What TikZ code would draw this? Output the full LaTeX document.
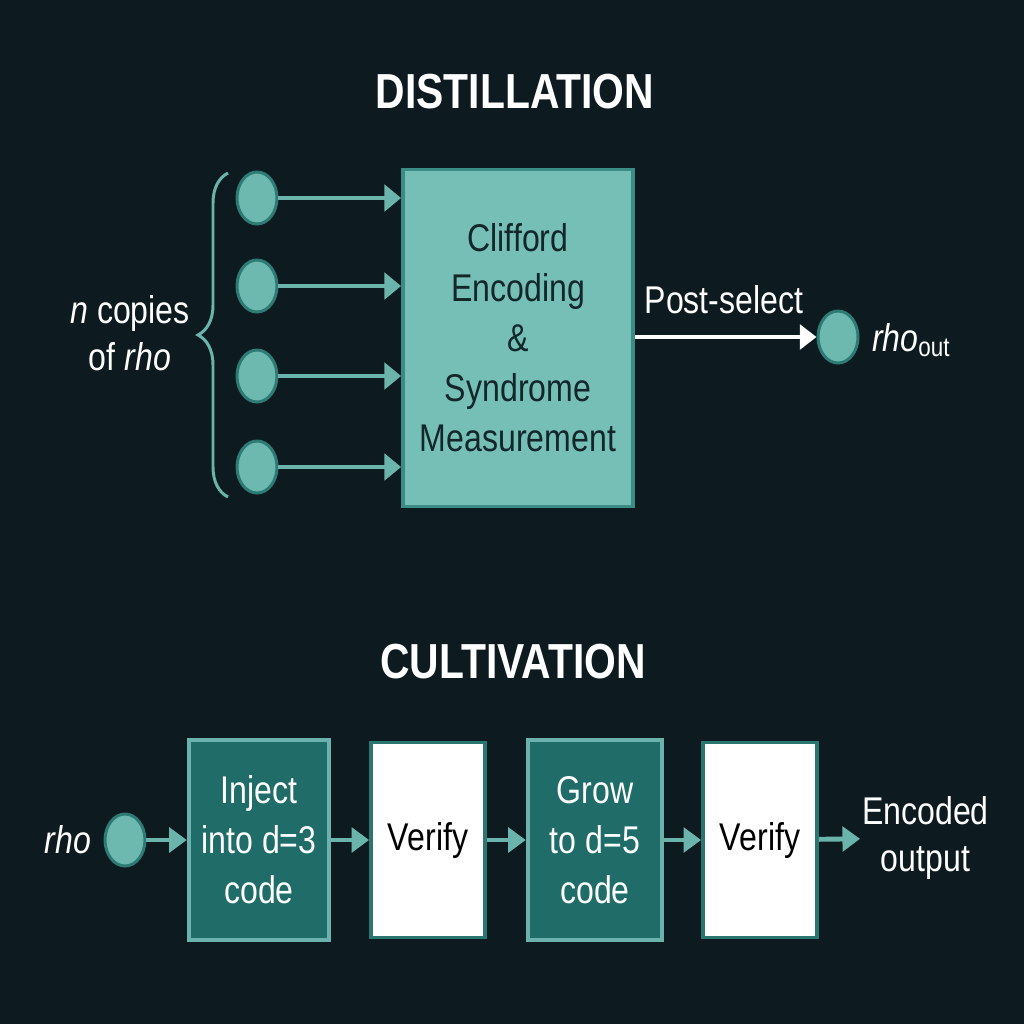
\documentclass[tikz,border=0pt]{standalone}
\usepackage{fontspec}
\setmainfont{Liberation Sans}[FakeStretch=0.83]
\usepackage{xcolor}
\usepackage{tikz}
\usetikzlibrary{arrows.meta,shapes.geometric,decorations.pathreplacing}
\definecolor{bgdark}{HTML}{0D1B20}
\definecolor{qfill}{HTML}{6DB8AF}
\definecolor{qedge}{HTML}{2E7B75}
\definecolor{qline}{HTML}{6BB4AC}
\definecolor{encfill}{HTML}{75BFB7}
\definecolor{encedge}{HTML}{3A8C85}
\definecolor{enctext}{HTML}{13262A}
\definecolor{stagefill}{HTML}{1F6C68}
\definecolor{stageedge}{HTML}{6AB2AB}
\definecolor{checkedge}{HTML}{2B7671}

\tikzset{
  qubit/.style={ellipse,fill=qfill,draw=qedge,line width=1.7pt,
    minimum width=0.8cm,minimum height=1.04cm,inner sep=0pt},
  feed/.style={draw=qline,line width=2.3pt,-{Triangle[length=9.5pt,width=15pt]}},
  flow/.style={draw=qline,line width=2.8pt,-{Triangle[length=10pt,width=14pt]}},
  encbox/.style={draw=encedge,fill=encfill,line width=2.2pt,text=enctext,
    align=center,minimum width=4.6cm,minimum height=6.74cm},
  stagebox/.style={draw=stageedge,fill=stagefill,line width=2.6pt,text=white,
    align=center,minimum height=4cm},
  checkbox/.style={draw=checkedge,fill=white,line width=2.2pt,text=black,
    minimum width=2.28cm,minimum height=3.9cm},
  label/.style={text=white,align=center,inner sep=1pt},
  body/.style={font=\fontsize{22}{28.5}\selectfont}
}

\begin{document}
\begin{tikzpicture}[x=0.02cm,y=-0.02cm]
  \fill[bgdark] (0,0) rectangle (1024,1024);
  \node[text=white] (distil) at (515,92)
    {\fontsize{28}{30}\selectfont\bfseries DISTILLATION};
  \node[encbox,body] (encode) at (518,338)
    {Clifford\\Encoding\\\&\\Syndrome\\Measurement};
  \foreach \i/\y in {1/198,2/286,3/376,4/467}{
    \node[qubit] (copy\i) at (257,\y) {};
    \draw[feed] (copy\i.east) -- (copy\i.east -| encode.west);
  }
  \coordinate (braceb) at (228,497);
  \coordinate (bracet) at (228,173);
  \draw[qline,line width=1.7pt,decorate,decoration={brace,amplitude=0.6cm}]
    (braceb) -- (bracet);
  \node[label,body,font=\fontsize{22}{26.5}\selectfont] (copies) at (130,333)
    {\textit{n} copies\\of \textit{rho}};
  \node[qubit] (out) at (838,337) {};
  \draw[white,line width=2.3pt,-{Triangle[length=9.5pt,width=14pt]}]
    (encode.east |- out.west) -- (out.west);
  \node[label,body] (postsel) at (724,300) {Post-select};
  \node[label,body,anchor=west] (rhoout) at (870,340)
    {\textit{rho}\textsubscript{out}};

  \node[text=white] (cultiv) at (513,662)
    {\fontsize{28}{30}\selectfont\bfseries CULTIVATION};
  \node[label,body] (rhoin) at (68,840) {\textit{rho}};
  \node[qubit] (input) at (125,840) {};
  \node[stagebox,body,minimum width=2.8cm] (inject) at (259,840)
    {Inject\\into d=3\\code};
  \node[checkbox,body] (verifya) at (428,840) {Verify};
  \node[stagebox,body,minimum width=2.68cm] (grow) at (595,840)
    {Grow\\to d=5\\code};
  \node[checkbox,body] (verifyb) at (760,840) {Verify};
  \node[label,body,font=\fontsize{22}{26.5}\selectfont,anchor=west] (encout) at (860,838)
    {Encoded\\output};
  \draw[flow] (input) -- (inject);
  \draw[flow] (inject) -- (verifya);
  \draw[flow] (verifya) -- (grow);
  \draw[flow] (grow) -- (verifyb);
  \draw[flow] (verifyb) -- (encout);
\end{tikzpicture}
\end{document}
